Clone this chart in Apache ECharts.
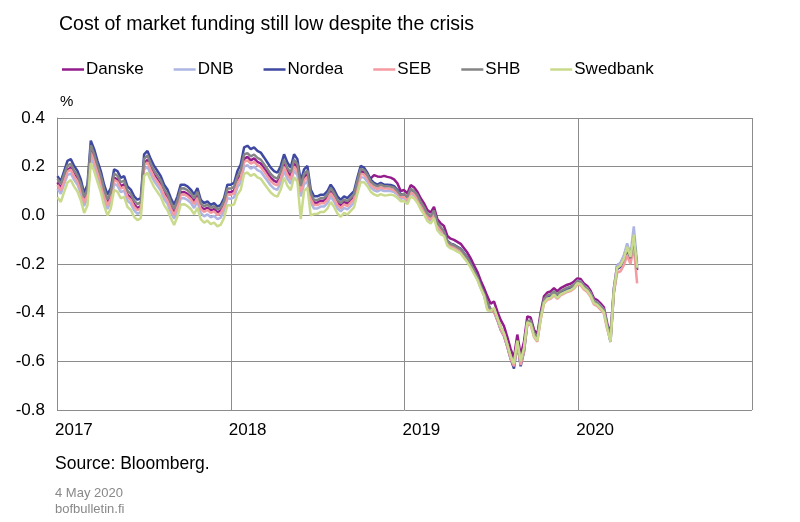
<!DOCTYPE html>
<html><head><meta charset="utf-8">
<script src="https://cdn.jsdelivr.net/npm/echarts@6/dist/echarts.min.js"></script>
<style>html,body{margin:0;padding:0;background:#fff}#c{width:800px;height:522px}</style>
</head><body><div id="c"></div><script>
// Weekly observations starting from this date
const firstWeek = '2017-01-02';
const yearTicks = [2017, 2018, 2019, 2020];
const seriesNames = ['Danske', 'DNB', 'Nordea', 'SEB', 'SHB', 'Swedbank'];

const danske = [
.135,.112,.150,.188,.195,.168,.148,.112,.060,.092,.268,.235,.188,.146,.092,.050,.078,.155,.147,.120,.127,.085,.072,.045,.030,.038,.214,.228,.195,.167,.146,.127,.092,.072,.038,.010,.045,.095,.096,.088,.076,.056,.082,.036,.024,.032,.019,.026,.012,.019,.045,.096,
.095,.102,.145,.168,.232,.240,.226,.234,.220,.213,.194,.174,.155,.142,.136,.165,.213,.180,.160,.214,.195,.107,.156,.170,.078,.052,.052,.060,.060,.074,.101,.081,.053,.040,.055,.048,.062,.077,.132,.181,.178,.160,.152,.165,.160,.158,.162,.158,.155,.148,.132,.100,
.104,.090,.124,.115,.097,.070,.049,.022,.011,.035,-.016,-.033,-.044,-.085,-.096,-.101,-.109,-.117,-.135,-.153,-.177,-.205,-.232,-.268,-.299,-.333,-.363,-.354,-.395,-.430,-.455,-.500,-.550,-.585,-.490,-.575,-.520,-.415,-.420,-.470,-.490,-.400,-.333,-.317,-.313,-.299,-.313,-.299,-.292,-.285,-.281,-.272,
-.259,-.262,-.280,-.290,-.310,-.341,-.348,-.362,-.378,-.444,-.490,-.300,-.205,-.197,-.170,-.125,-.165,-.100,-.225];

const dnb = [
.110,.088,.128,.165,.172,.146,.126,.090,.038,.070,.240,.208,.162,.120,.066,.026,.053,.130,.122,.095,.102,.060,.048,.020,.006,.014,.188,.200,.168,.141,.121,.101,.067,.047,.013,-.014,.020,.070,.071,.063,.051,.030,.056,.010,-.004,.004,-.008,-.002,-.016,-.009,.018,.070,
.068,.074,.115,.135,.200,.206,.192,.200,.186,.180,.161,.142,.123,.110,.105,.134,.182,.150,.130,.184,.165,.078,.127,.141,.052,.028,.028,.036,.036,.050,.077,.057,.029,.016,.031,.024,.038,.053,.108,.157,.155,.138,.114,.103,.098,.105,.100,.100,.100,.096,.085,.068,
.071,.058,.090,.082,.064,.037,.016,-.011,-.022,.002,-.049,-.066,-.074,-.115,-.126,-.131,-.139,-.147,-.165,-.183,-.207,-.235,-.262,-.298,-.329,-.370,-.393,-.390,-.425,-.465,-.490,-.535,-.585,-.615,-.520,-.610,-.555,-.440,-.442,-.492,-.512,-.422,-.355,-.339,-.335,-.321,-.335,-.321,-.314,-.307,-.303,-.294,
-.269,-.272,-.290,-.300,-.320,-.351,-.358,-.372,-.388,-.454,-.500,-.300,-.205,-.195,-.165,-.115,-.160,-.045,-.195];

const nordea = [
.161,.140,.182,.224,.231,.203,.182,.147,.092,.126,.307,.272,.224,.182,.126,.085,.112,.189,.182,.154,.161,.119,.106,.078,.064,.071,.251,.265,.231,.203,.182,.161,.126,.106,.071,.043,.078,.126,.126,.119,.106,.085,.112,.064,.050,.057,.043,.050,.036,.043,.071,.126,
.126,.133,.182,.210,.279,.286,.272,.279,.265,.258,.238,.217,.196,.182,.175,.203,.251,.217,.196,.251,.231,.140,.189,.203,.106,.078,.078,.085,.085,.099,.126,.106,.078,.064,.078,.071,.085,.099,.154,.203,.196,.175,.147,.133,.126,.133,.126,.126,.125,.120,.105,.088,
.084,.071,.103,.095,.077,.050,.029,.002,-.009,.015,-.036,-.053,-.064,-.105,-.116,-.121,-.129,-.137,-.155,-.173,-.197,-.225,-.252,-.288,-.319,-.360,-.385,-.395,-.430,-.470,-.495,-.540,-.590,-.630,-.525,-.620,-.560,-.445,-.440,-.488,-.508,-.418,-.351,-.335,-.331,-.317,-.331,-.317,-.310,-.303,-.299,-.290,
-.274,-.277,-.295,-.305,-.325,-.356,-.363,-.377,-.393,-.459,-.520,-.315,-.220,-.212,-.185,-.140,-.180,-.085,-.210];

const seb = [
.125,.102,.142,.180,.188,.160,.140,.104,.052,.085,.258,.225,.178,.136,.082,.041,.068,.146,.138,.110,.117,.076,.063,.035,.021,.029,.205,.218,.185,.157,.137,.117,.083,.062,.028,.001,.036,.085,.086,.079,.066,.046,.072,.026,.014,.022,.010,.016,.002,.009,.035,.086,
.085,.090,.132,.155,.220,.226,.212,.220,.206,.199,.180,.160,.141,.128,.123,.152,.200,.167,.147,.201,.182,.095,.144,.158,.067,.042,.042,.050,.050,.064,.091,.071,.043,.030,.045,.038,.052,.067,.122,.171,.168,.150,.125,.114,.108,.115,.110,.110,.108,.104,.092,.075,
.076,.062,.096,.087,.069,.042,.021,-.006,-.017,.007,-.044,-.061,-.072,-.113,-.124,-.129,-.137,-.145,-.163,-.181,-.205,-.233,-.260,-.296,-.327,-.385,-.392,-.395,-.430,-.470,-.495,-.540,-.590,-.620,-.530,-.615,-.560,-.450,-.450,-.500,-.520,-.430,-.363,-.347,-.343,-.329,-.343,-.329,-.322,-.315,-.311,-.302,
-.284,-.287,-.305,-.315,-.335,-.366,-.373,-.387,-.403,-.469,-.510,-.320,-.235,-.230,-.205,-.165,-.200,-.130,-.280];

const shb = [
.150,.128,.168,.205,.212,.185,.164,.128,.075,.108,.288,.252,.205,.163,.108,.066,.094,.172,.163,.136,.143,.101,.088,.060,.046,.054,.232,.246,.212,.184,.163,.143,.108,.088,.054,.026,.061,.110,.111,.103,.091,.070,.097,.050,.037,.045,.031,.038,.024,.031,.058,.110,
.110,.117,.160,.185,.250,.256,.242,.250,.236,.229,.210,.190,.170,.157,.151,.180,.228,.195,.175,.229,.210,.121,.170,.184,.090,.063,.063,.071,.071,.085,.112,.092,.064,.050,.065,.058,.072,.087,.142,.191,.186,.166,.139,.126,.119,.126,.120,.120,.118,.114,.100,.083,
.089,.076,.109,.100,.083,.055,.034,.007,-.004,.020,-.031,-.048,-.066,-.107,-.118,-.123,-.131,-.139,-.157,-.175,-.199,-.227,-.254,-.290,-.321,-.358,-.388,-.385,-.420,-.460,-.485,-.530,-.580,-.605,-.515,-.600,-.550,-.435,-.432,-.482,-.502,-.412,-.345,-.329,-.325,-.311,-.325,-.311,-.304,-.297,-.293,-.284,
-.271,-.274,-.292,-.302,-.322,-.353,-.360,-.374,-.390,-.456,-.505,-.310,-.215,-.207,-.180,-.135,-.175,-.095,-.220];

const swedbank = [
.075,.055,.095,.135,.145,.118,.098,.062,.010,.040,.215,.182,.138,.095,.040,.000,.028,.105,.097,.070,.076,.035,.022,-.006,-.020,-.012,.162,.175,.143,.116,.096,.076,.042,.022,-.012,-.040,-.005,.045,.046,.038,.026,.005,.031,-.016,-.030,-.022,-.036,-.030,-.045,-.038,-.010,.042,
.040,.045,.085,.105,.170,.176,.162,.170,.156,.150,.131,.112,.094,.082,.077,.106,.155,.122,.103,.157,.138,-.015,.100,.114,.000,.005,.006,.014,.014,.028,.055,.035,.008,-.006,.010,.003,.018,.033,.088,.137,.136,.120,.097,.086,.080,.087,.082,.083,.085,.082,.072,.058,
.059,.046,.078,.070,.052,.025,.004,-.023,-.034,-.010,-.061,-.078,-.084,-.125,-.136,-.141,-.149,-.157,-.175,-.193,-.215,-.240,-.265,-.300,-.330,-.390,-.393,-.380,-.420,-.460,-.485,-.530,-.580,-.610,-.515,-.600,-.545,-.440,-.446,-.496,-.516,-.426,-.359,-.343,-.339,-.325,-.339,-.325,-.318,-.311,-.307,-.298,
-.279,-.282,-.300,-.310,-.330,-.361,-.368,-.382,-.398,-.464,-.520,-.310,-.215,-.205,-.178,-.130,-.170,-.080,-.215];

const seriesValues = [danske, dnb, nordea, seb, shb, swedbank];
const seriesColors = ['#931b8c', '#adb6e3', '#3f49a1', '#f39ba0', '#858585', '#c9da8c'];

const FONT = '"Liberation Sans", Arial, sans-serif';
const start = Date.parse(firstWeek + 'T00:00:00Z');
function decimalYear(i) {
  const ms = start + i * 7 * 86400000;
  const y = new Date(ms).getUTCFullYear();
  const a = Date.UTC(y, 0, 1), b = Date.UTC(y + 1, 0, 1);
  return y + (ms - a) / (b - a);
}

const chart = echarts.init(document.getElementById('c'), null, {renderer: 'canvas'});
chart.setOption({
  animation: false,
  backgroundColor: '#fff',
  textStyle: {fontFamily: FONT},
  title: {
    text: 'Cost of market funding still low despite the crisis',
    left: 54, top: 10,
    textStyle: {fontSize: 19.5, fontWeight: 'normal', color: '#000', fontFamily: FONT}
  },
  legend: {
    left: 57, top: 56, icon: 'rect',
    itemWidth: 22, itemHeight: 2.5, itemGap: 30,
    textStyle: {fontSize: 17, color: '#000', fontFamily: FONT, padding: [0, 0, 0, -3]},
    data: seriesNames
  },
  grid: {left: 57, right: 48, top: 118, bottom: 112, containLabel: false},
  xAxis: {
    type: 'value', min: 2017, max: 2021, interval: 1,
    axisLine: {show: true, lineStyle: {color: '#8c8c8c', width: 1}},
    axisTick: {show: false},
    splitLine: {show: true, lineStyle: {color: '#8c8c8c', width: 1}},
    axisLabel: {
      formatter: v => yearTicks.indexOf(v) >= 0 ? String(v) : '',
      align: 'left', margin: 12, fontSize: 17, color: '#000', fontFamily: FONT, padding: [0, 0, 0, -2]
    }
  },
  yAxis: {
    type: 'value', min: -0.8, max: 0.4, interval: 0.2,
    axisLine: {show: true, lineStyle: {color: '#8c8c8c', width: 1}},
    axisTick: {show: false},
    splitLine: {show: true, lineStyle: {color: '#8c8c8c', width: 1}},
    axisLabel: {formatter: v => v.toFixed(1), margin: 12, fontSize: 17, color: '#000', fontFamily: FONT}
  },
  graphic: [
    {type: 'text', left: 60, top: 94, style: {text: '%', fontSize: 15, fill: '#000', fontFamily: FONT}},
    {type: 'text', left: 55, top: 455, style: {text: 'Source: Bloomberg.', fontSize: 17.5, fill: '#000', fontFamily: FONT}},
    {type: 'text', left: 55, top: 487, style: {text: '4 May 2020', fontSize: 13, fill: '#888', fontFamily: FONT}},
    {type: 'text', left: 55, top: 503, style: {text: 'bofbulletin.fi', fontSize: 13, fill: '#888', fontFamily: FONT}}
  ],
  series: seriesNames.map((name, k) => ({
    name, type: 'line', symbol: 'none', smooth: false,
    color: seriesColors[k],
    lineStyle: {width: 2.5, color: seriesColors[k]},
    data: seriesValues[k].map((v, i) => [decimalYear(i), v])
  }))
});
</script></body></html>
